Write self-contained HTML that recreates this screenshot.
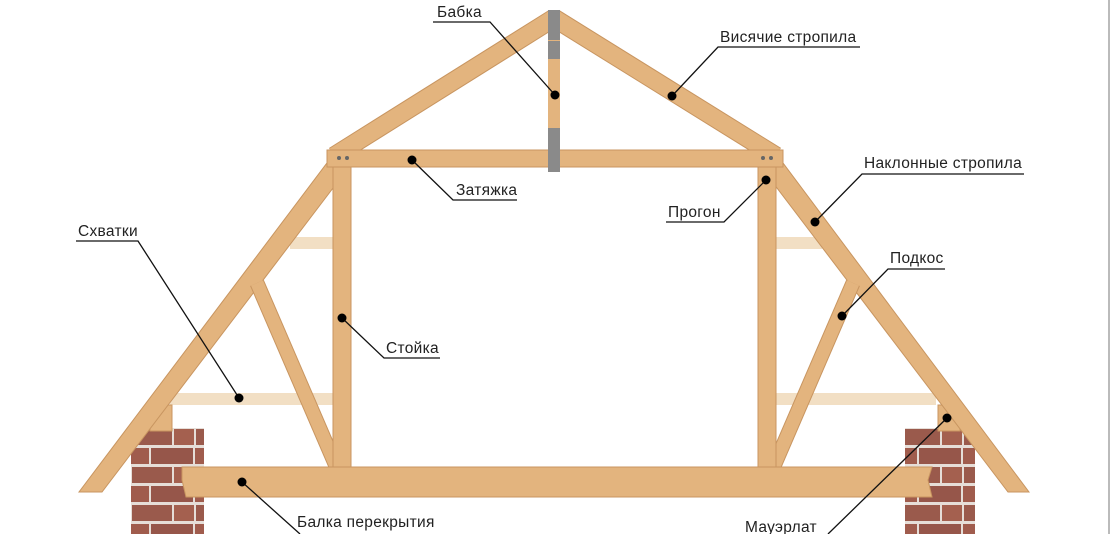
<!DOCTYPE html>
<html><head><meta charset="utf-8"><style>
html,body{margin:0;padding:0;background:#fff;}
svg{display:block}
text{font-family:"Liberation Sans",sans-serif;font-size:15.5px;fill:#222;letter-spacing:0.3px}
</style></head><body>
<svg width="1110" height="534" viewBox="0 0 1110 534" xmlns="http://www.w3.org/2000/svg">
<defs>
<pattern id="brick" x="131" y="428" width="64" height="38" patternUnits="userSpaceOnUse">
<rect width="64" height="38" fill="#e6ded8"/>
<rect x="1" y="1" width="40" height="16" fill="#9a5a4c"/>
<rect x="43" y="1" width="20" height="16" fill="#a4604f"/>
<rect x="-12" y="20" width="30" height="16" fill="#a05c4d"/>
<rect x="20" y="20" width="42" height="16" fill="#96564a"/>
</pattern>
</defs>
<rect x="1108" y="0" width="2" height="534" fill="#bbb"/>
<rect x="131" y="428" width="73" height="106" fill="url(#brick)"/>
<rect x="905" y="428" width="70" height="106" fill="url(#brick)"/>
<g fill="#f2dfc4">
<rect x="290" y="237" width="44" height="12"/>
<rect x="170" y="393" width="164" height="12"/>
<rect x="776" y="237" width="46" height="12"/>
<rect x="776" y="393" width="160" height="12"/>
</g>
<g fill="#e3b47e" stroke="#c89560" stroke-width="1">
<rect x="150" y="405" width="22" height="26"/>
<rect x="938" y="405" width="22" height="26"/>
<polygon points="333,155 349,167 102,492 79,492"/>
<polygon points="777,155 761,167 1008,492 1029,492"/>
</g>
<g stroke-linecap="butt">
<line x1="257" y1="283" x2="336" y2="466" stroke="#c89560" stroke-width="15"/>
<line x1="853" y1="283" x2="774" y2="466" stroke="#c89560" stroke-width="15"/>
<line x1="257" y1="283" x2="336" y2="466" stroke="#e3b47e" stroke-width="13"/>
<line x1="853" y1="283" x2="774" y2="466" stroke="#e3b47e" stroke-width="13"/>
</g>
<g fill="#e3b47e" stroke="#c89560" stroke-width="1">
<rect x="333" y="167" width="18" height="302"/>
<rect x="758" y="167" width="18" height="302"/>
</g>
<g stroke-linecap="butt">
<line x1="554" y1="18" x2="334" y2="156" stroke="#c89560" stroke-width="19"/>
<line x1="554" y1="18" x2="776" y2="156" stroke="#c89560" stroke-width="19"/>
<line x1="554" y1="18" x2="334" y2="156" stroke="#e3b47e" stroke-width="17"/>
<line x1="554" y1="18" x2="776" y2="156" stroke="#e3b47e" stroke-width="17"/>
</g>
<g fill="#e3b47e" stroke="#c89560" stroke-width="1">
<rect x="327" y="150" width="456" height="17"/>
<path d="M182,467 L932,467 L928,480 L932,497 L186,497 L182,480 Z"/>
</g>
<rect x="548" y="12" width="12" height="160" fill="#e3b47e"/>
<g fill="#8a8a8a">
<rect x="548" y="10" width="12" height="30"/>
<rect x="548" y="41" width="12" height="18"/>
<rect x="548" y="128" width="12" height="44"/>
</g>
<g fill="#666"><circle cx="339" cy="158" r="2"/><circle cx="347" cy="158" r="2"/><circle cx="763" cy="158" r="2"/><circle cx="771" cy="158" r="2"/></g>
<g stroke="#111" stroke-width="1.3" fill="none">
<polyline points="433,22 490,22 555,95"/>
<polyline points="860,47 718,47 672,96"/>
<polyline points="517,200 453,200 412,160"/>
<polyline points="666,222 724,222 766,180"/>
<polyline points="1024,174 862,174 815,222"/>
<polyline points="945,269 888,269 842,316"/>
<polyline points="76,241 138,241 239,398"/>
<polyline points="440,358 384,358 342,318"/>
<polyline points="300,534 242,482"/>
<polyline points="828,534 947,418"/>
</g>
<g fill="#000">
<circle cx="555" cy="95" r="4.5"/><circle cx="672" cy="96" r="4.5"/><circle cx="412" cy="160" r="4.5"/>
<circle cx="766" cy="180" r="4.5"/><circle cx="815" cy="222" r="4.5"/><circle cx="842" cy="316" r="4.5"/>
<circle cx="239" cy="398" r="4.5"/><circle cx="342" cy="318" r="4.5"/><circle cx="242" cy="482" r="4.5"/>
<circle cx="947" cy="418" r="4.5"/>
</g>
<text x="437" y="17">Бабка</text>
<text x="720" y="42">Висячие стропила</text>
<text x="456" y="195">Затяжка</text>
<text x="668" y="217">Прогон</text>
<text x="864" y="168">Наклонные стропила</text>
<text x="890" y="263">Подкос</text>
<text x="78" y="236">Схватки</text>
<text x="386" y="353">Стойка</text>
<text x="297" y="527">Балка перекрытия</text>
<text x="745" y="532">Мауэрлат</text>
</svg>
</body></html>
